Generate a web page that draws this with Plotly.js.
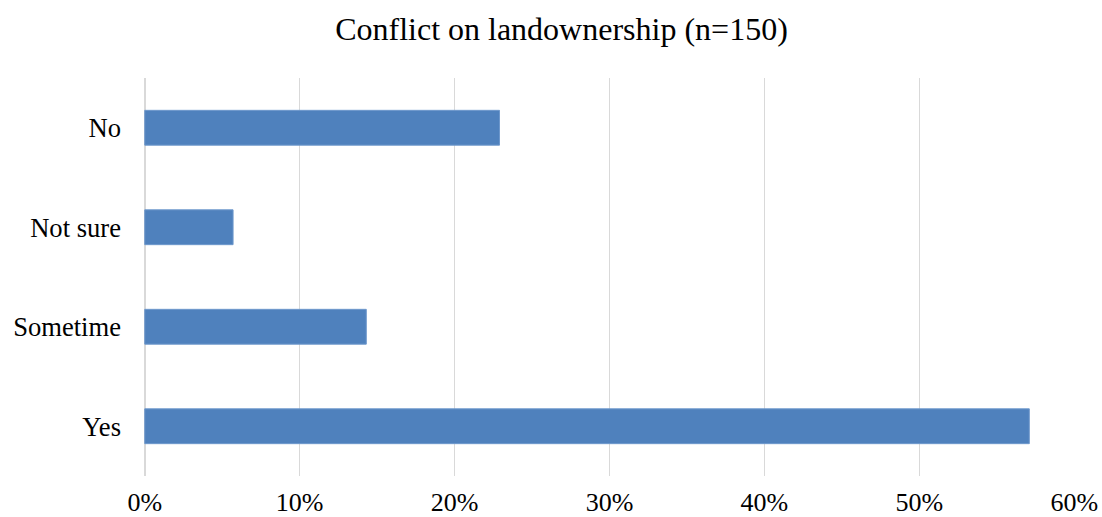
<!DOCTYPE html>
<html>
<head>
<meta charset="utf-8">
<script src="https://cdn.plot.ly/plotly-3.0.1.min.js"></script>
<style>
  html, body { margin: 0; padding: 0; background: #fff; }
  #chart { width: 1102px; height: 517px; }
</style>
</head>
<body>
<div id="chart"></div>
<script>
// Responses (percent of respondents), listed bottom to top
const categories = ["Yes", "Sometime", "Not sure", "No"];
const percentages = [57.1, 14.3, 5.7, 22.9];
const tickValues = [0, 10, 20, 30, 40, 50, 60];
const tickLabels = ["0%", "10%", "20%", "30%", "40%", "50%", "60%"];

const serif = "Liberation Serif";

const trace = {
  type: "bar",
  orientation: "h",
  y: categories,
  x: percentages,
  marker: { color: "#4f81bd", line: { color: "#6e98cc", width: 1 } },
  width: 0.35,
  hoverinfo: "x+y"
};

const layout = {
  width: 1102,
  height: 517,
  margin: { l: 144, r: 27, t: 78, b: 41 },
  paper_bgcolor: "#ffffff",
  plot_bgcolor: "#ffffff",
  showlegend: false,
  title: {
    text: "Conflict on landownership (n=150)",
    font: { family: serif, size: 32, color: "#000" },
    x: 0.5095, xanchor: "center",
    y: 0.945, yanchor: "middle"
  },
  xaxis: {
    range: [-0.05, 60.05],
    tickvals: tickValues,
    ticktext: tickLabels,
    showgrid: true,
    gridcolor: "#d9d9d9",
    gridwidth: 1.5,
    zeroline: true,
    zerolinecolor: "#d9d9d9",
    zerolinewidth: 1.5,
    showline: false,
    ticks: "",
    ticklabelstandoff: 8,
    tickfont: { family: serif, size: 26, color: "#000" },
    fixedrange: true
  },
  yaxis: {
    showgrid: false,
    zeroline: false,
    showline: false,
    ticks: "",
    ticklabelstandoff: 22,
    tickfont: { family: serif, size: 26.6, color: "#000" },
    fixedrange: true
  }
};

Plotly.newPlot("chart", [trace], layout, { displayModeBar: false, staticPlot: true });
</script>
</body>
</html>
